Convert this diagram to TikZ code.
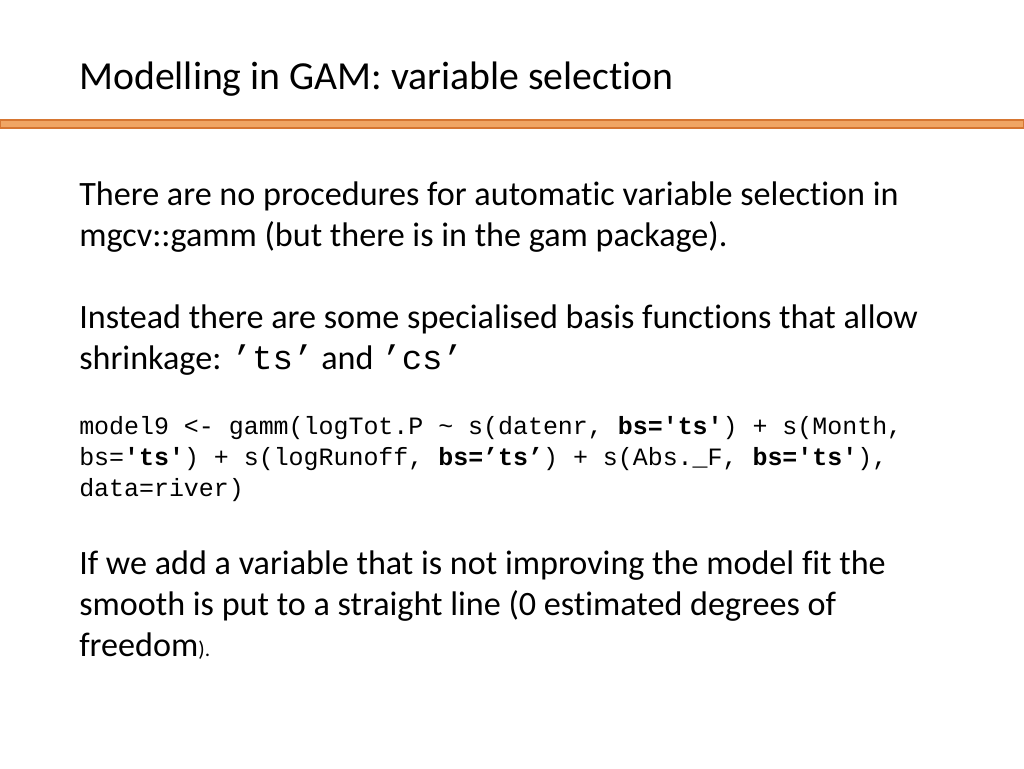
\documentclass[tikz,border=0pt]{standalone}
\usepackage{fontspec}
\setmainfont[RawFeature=-liga]{Carlito}
\setmonofont{Liberation Mono}
\definecolor{rulefill}{RGB}{240,165,100}
\definecolor{ruledraw}{RGB}{214,118,50}
\begin{document}
\begin{tikzpicture}[x=0.75pt,y=-0.75pt,
  txt/.style={anchor=mid west,inner sep=0pt,font=\fontsize{25.6}{30}\selectfont},
  code/.style={anchor=mid west,inner sep=0pt,font=\fontsize{18.7}{22}\ttfamily}]
\useasboundingbox (0,0) rectangle (1024,768);

% title and rule
\node[txt,font=\fontsize{29.8}{34}\selectfont] (title) at (79,86) {Modelling in GAM: variable selection};
\draw[ruledraw,fill=rulefill,line width=0.8pt] (0,120) rectangle (1024,128);

% body text
\node[txt] (p1a) at (79,202) {There are no procedures for automatic variable selection in};
\node[txt] (p1b) at (79,243) {mgcv::gamm (but there is in the gam package).};
\node[txt] (p2a) at (79,325) {Instead there are some specialised basis functions that allow};
\node[txt] (p2b) at (79,366) {shrinkage: {\ttfamily ’ts’} and {\ttfamily ’cs’}};

% code
\node[code] (c1) at (79,431) {model9 <- gamm(logTot.P \textasciitilde{} s(datenr, \textbf{bs='ts'}) + s(Month,};
\node[code] (c2) at (79,462) {bs=\textbf{'ts'}) + s(logRunoff, \textbf{bs=’ts’}) + s(Abs.\_F, \textbf{bs='ts'}),};
\node[code] (c3) at (79,493) {data=river)};

% conclusion
\node[txt] (p3a) at (79,571) {If we add a variable that is not improving the model fit the};
\node[txt] (p3b) at (79,612) {smooth is put to a straight line (0 estimated degrees of};
\node[txt] (p3c) at (79,653) {freedom{\fontsize{16}{18}\selectfont).}};
\end{tikzpicture}
\end{document}
